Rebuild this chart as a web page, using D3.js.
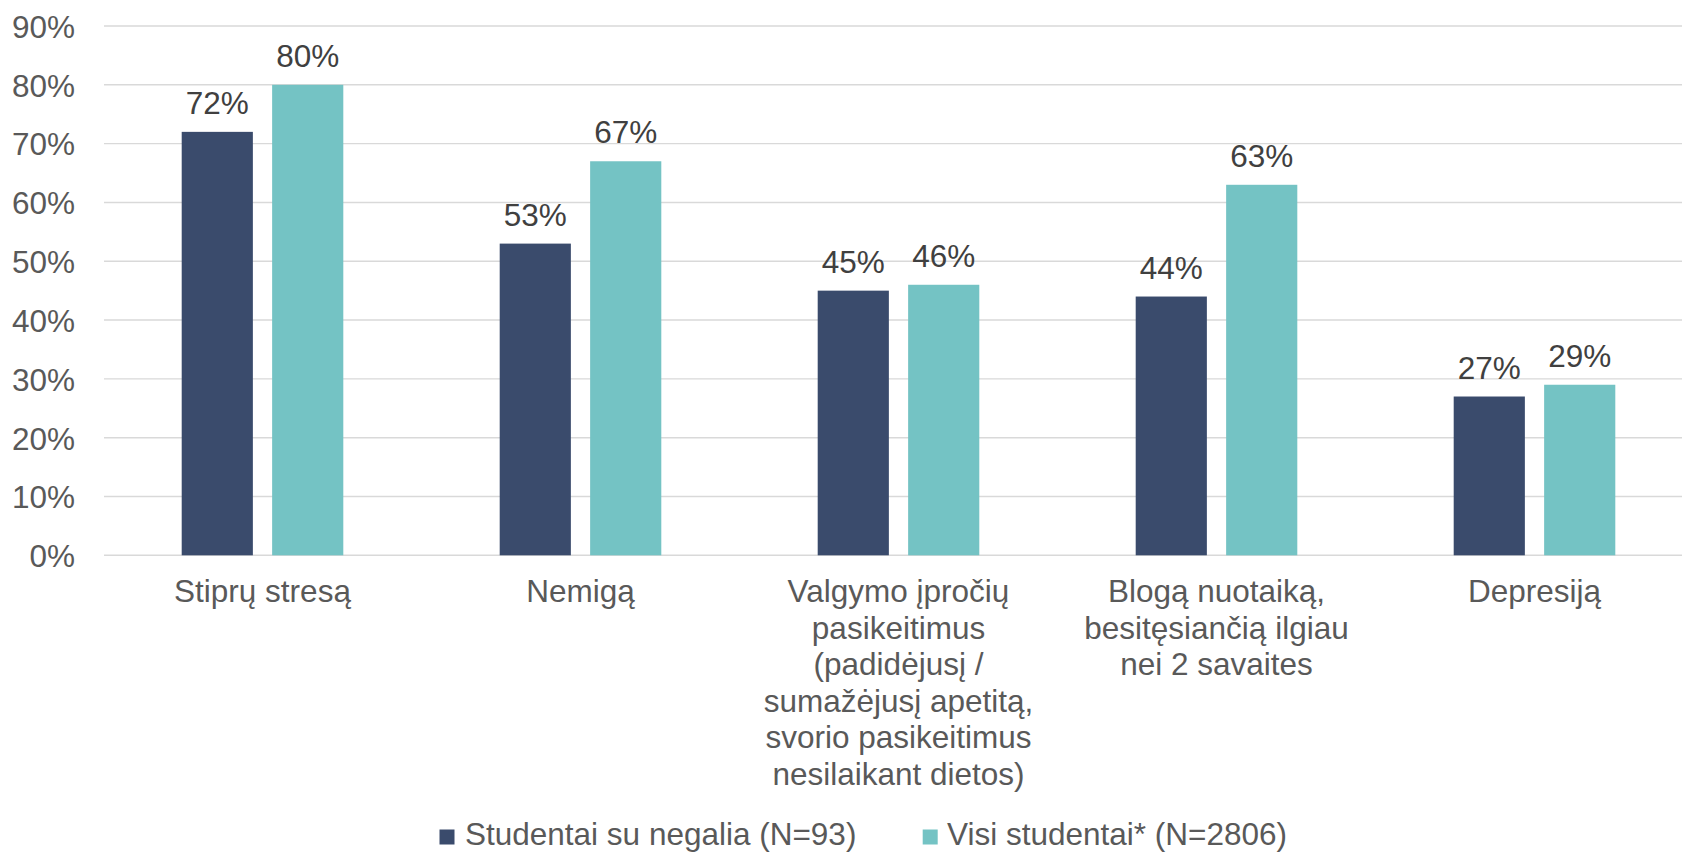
<!DOCTYPE html>
<html>
<head>
<meta charset="utf-8">
<script src="https://cdn.jsdelivr.net/npm/d3@7"></script>
<style>
  html, body { margin: 0; padding: 0; background: #ffffff; overflow: hidden; }
  svg { display: block; font-family: Arial, "Liberation Sans", sans-serif; }
</style>
</head>
<body>
<svg id="chart" width="1682" height="852"></svg>
<script>
const categories = [
  "Stiprų stresą",
  "Nemigą",
  "Valgymo įpročių\npasikeitimus\n(padidėjusį /\nsumažėjusį apetitą,\nsvorio pasikeitimus\nnesilaikant dietos)",
  "Blogą nuotaiką,\nbesitęsiančią ilgiau\nnei 2 savaites",
  "Depresiją"
];
const seriesNames = ["Studentai su negalia (N=93)", "Visi studentai* (N=2806)"];
const disabledValues = [0.72, 0.53, 0.45, 0.44, 0.27];
const allValues = [0.80, 0.67, 0.46, 0.63, 0.29];
const yTicks = [0, 0.1, 0.2, 0.3, 0.4, 0.5, 0.6, 0.7, 0.8, 0.9];
const colors = ["#3A4B6C", "#74C3C4"];

const svg = d3.select("#chart");
const fontSize = 31.5;

const x0 = d3.scaleBand().domain(categories).range([103.5, 1693.5]).padding(0);
const x1 = d3.scaleBand().domain(seriesNames)
  .range([78.2, x0.bandwidth() - 78.2]).paddingInner(0.213).paddingOuter(0);
const y = d3.scaleLinear().domain([0, 0.9]).range([555.3, 26]);

// gridlines
svg.append("g").selectAll("line").data(yTicks).join("line")
  .attr("x1", 104).attr("x2", 1682)
  .attr("y1", d => y(d)).attr("y2", d => y(d))
  .attr("stroke", "#D9D9D9").attr("stroke-width", 1.4);

// y axis labels
const yAxis = d3.axisLeft(y).tickValues(yTicks).tickFormat(d3.format(".0%")).tickSize(0).tickPadding(0);
const yg = svg.append("g").attr("transform", "translate(75,0)").call(yAxis);
yg.select(".domain").remove();
yg.selectAll("text")
  .attr("font-size", fontSize)
  .attr("font-family", "Arial, 'Liberation Sans', sans-serif")
  .attr("fill", "#595959")
  .attr("dy", "0.36em");

// bars
const rows = categories.map((c, i) => ({ cat: c, vals: [disabledValues[i], allValues[i]] }));
const groups = svg.append("g").selectAll("g").data(rows).join("g")
  .attr("transform", d => `translate(${x0(d.cat)},0)`);

groups.selectAll("rect").data(d => d.vals.map((v, j) => ({ v, s: seriesNames[j], j })))
  .join("rect")
  .attr("x", d => x1(d.s))
  .attr("width", x1.bandwidth())
  .attr("y", d => y(d.v))
  .attr("height", d => y(0) - y(d.v))
  .attr("fill", d => colors[d.j]);

groups.selectAll("text.val").data(d => d.vals.map((v, j) => ({ v, s: seriesNames[j], j })))
  .join("text")
  .attr("class", "val")
  .attr("x", d => x1(d.s) + x1.bandwidth() / 2)
  .attr("y", d => y(d.v) - 18)
  .attr("text-anchor", "middle")
  .attr("font-size", fontSize)
  .attr("fill", "#404040")
  .text(d => d3.format(".0%")(d.v));

// category labels
const lineH = 36.6;
groups.append("text")
  .attr("text-anchor", "middle")
  .attr("font-size", fontSize)
  .attr("fill", "#595959")
  .each(function(d) {
    const t = d3.select(this);
    d.cat.split("\n").forEach((ln, k) => {
      t.append("tspan")
        .attr("x", x0.bandwidth() / 2)
        .attr("y", 602 + k * lineH)
        .text(ln);
    });
  });

// legend
const legendPos = [{ sq: 439.5, tx: 465 }, { sq: 922.7, tx: 947 }];
const lg = svg.append("g").selectAll("g").data(seriesNames).join("g");
lg.append("rect")
  .attr("x", (d, i) => legendPos[i].sq)
  .attr("y", 829.5)
  .attr("width", 15).attr("height", 15)
  .attr("fill", (d, i) => colors[i]);
lg.append("text")
  .attr("x", (d, i) => legendPos[i].tx)
  .attr("y", 845)
  .attr("font-size", fontSize)
  .attr("fill", "#595959")
  .text(d => d);
</script>
</body>
</html>
